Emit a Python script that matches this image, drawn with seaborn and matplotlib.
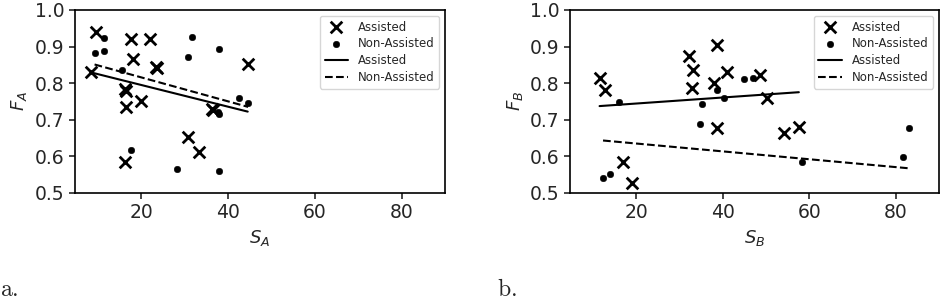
import numpy as np
import pandas as pd
import seaborn as sns
import matplotlib.pyplot as plt

# panel a: S_A vs F_A
sa_assisted = [9.6, 8.45, 17.5, 21.9, 18.1, 23.4, 23.7, 16.1, 16.4, 16.5, 19.9, 16.2, 30.8, 33.3, 36.3, 36.6, 44.5]
fa_assisted = [0.941, 0.829, 0.921, 0.921, 0.865, 0.845, 0.841, 0.783, 0.778, 0.734, 0.751, 0.583, 0.653, 0.610, 0.730, 0.726, 0.851]
sa_non = [11.3, 9.2, 11.3, 15.6, 17.6, 28.2, 30.8, 31.6, 37.8, 37.7, 37.9, 37.9, 42.6, 44.6]
fa_non = [0.922, 0.881, 0.887, 0.836, 0.617, 0.565, 0.870, 0.927, 0.893, 0.722, 0.714, 0.560, 0.760, 0.746]

# panel b: S_B vs F_B
sb_assisted = [11.5, 12.8, 16.9, 19.0, 32.1, 33.1, 32.9, 38.6, 37.9, 40.9, 38.6, 48.6, 50.2, 54.2, 57.6]
fb_assisted = [0.815, 0.781, 0.583, 0.526, 0.875, 0.836, 0.787, 0.904, 0.801, 0.831, 0.676, 0.822, 0.758, 0.663, 0.679]
sb_non = [16.1, 12.3, 14.0, 35.2, 34.8, 38.6, 40.2, 44.8, 46.9, 58.4, 81.7, 83.0]
fb_non = [0.749, 0.541, 0.551, 0.742, 0.687, 0.781, 0.758, 0.810, 0.813, 0.583, 0.597, 0.678]

# linear fits: (intercept, slope)
fit_a_assisted = (0.854, -0.00297)
fit_a_non = (0.881, -0.00328)
fit_b_assisted = (0.7275, 0.000824)
fit_b_non = (0.656, -0.001075)


def fit_frame(x, fit):
    xs = np.array([min(x), max(x)])
    return pd.DataFrame({'x': xs, 'y': fit[0] + fit[1] * xs})


def draw_panel(ax, xa, ya, xn, yn, fa, fn, xlabel, ylabel):
    sns.scatterplot(x=xa, y=ya, marker='x', s=70, color='black', linewidth=2,
                    label='Assisted', ax=ax)
    sns.scatterplot(x=xn, y=yn, marker='o', s=22, color='black', edgecolor='black',
                    label='Non-Assisted', ax=ax)
    la = fit_frame(xa, fa)
    ln = fit_frame(xn, fn)
    sns.lineplot(data=la, x='x', y='y', color='black', linewidth=1.5,
                 label='Assisted', ax=ax)
    sns.lineplot(data=ln, x='x', y='y', color='black', linewidth=1.5,
                 linestyle='--', label='Non-Assisted', ax=ax)
    ax.set_xlim(4.7, 90)
    ax.set_ylim(0.5, 1.0)
    ax.set_xticks([20, 40, 60, 80])
    ax.set_yticks([0.5, 0.6, 0.7, 0.8, 0.9, 1.0])
    ax.tick_params(labelsize=13.5, width=1.2, length=4)
    ax.set_xlabel(xlabel, fontsize=13)
    ax.set_ylabel(ylabel, fontsize=13)
    ax.legend(loc='upper right', fontsize=8.5, framealpha=0.8, labelspacing=0.32)
    for sp in ax.spines.values():
        sp.set_color('black')
        sp.set_linewidth(1.2)


sns.set_style('ticks')
fig = plt.figure(figsize=(9.44, 3.02), dpi=100)
ax_a = fig.add_axes([0.0795, 0.362, 0.392, 0.605])
ax_b = fig.add_axes([0.604, 0.362, 0.3906, 0.605])

draw_panel(ax_a, sa_assisted, fa_assisted, sa_non, fa_non,
           fit_a_assisted, fit_a_non, '$S_A$', '$F_A$')
draw_panel(ax_b, sb_assisted, fb_assisted, sb_non, fb_non,
           fit_b_assisted, fit_b_non, '$S_B$', '$F_B$')

fig.text(0.0, 0.02, r'$\mathrm{a.}$', fontsize=17, math_fontfamily='cm')
fig.text(0.527, 0.02, r'$\mathrm{b.}$', fontsize=17, math_fontfamily='cm')

fig.savefig('out.png', dpi=100)
